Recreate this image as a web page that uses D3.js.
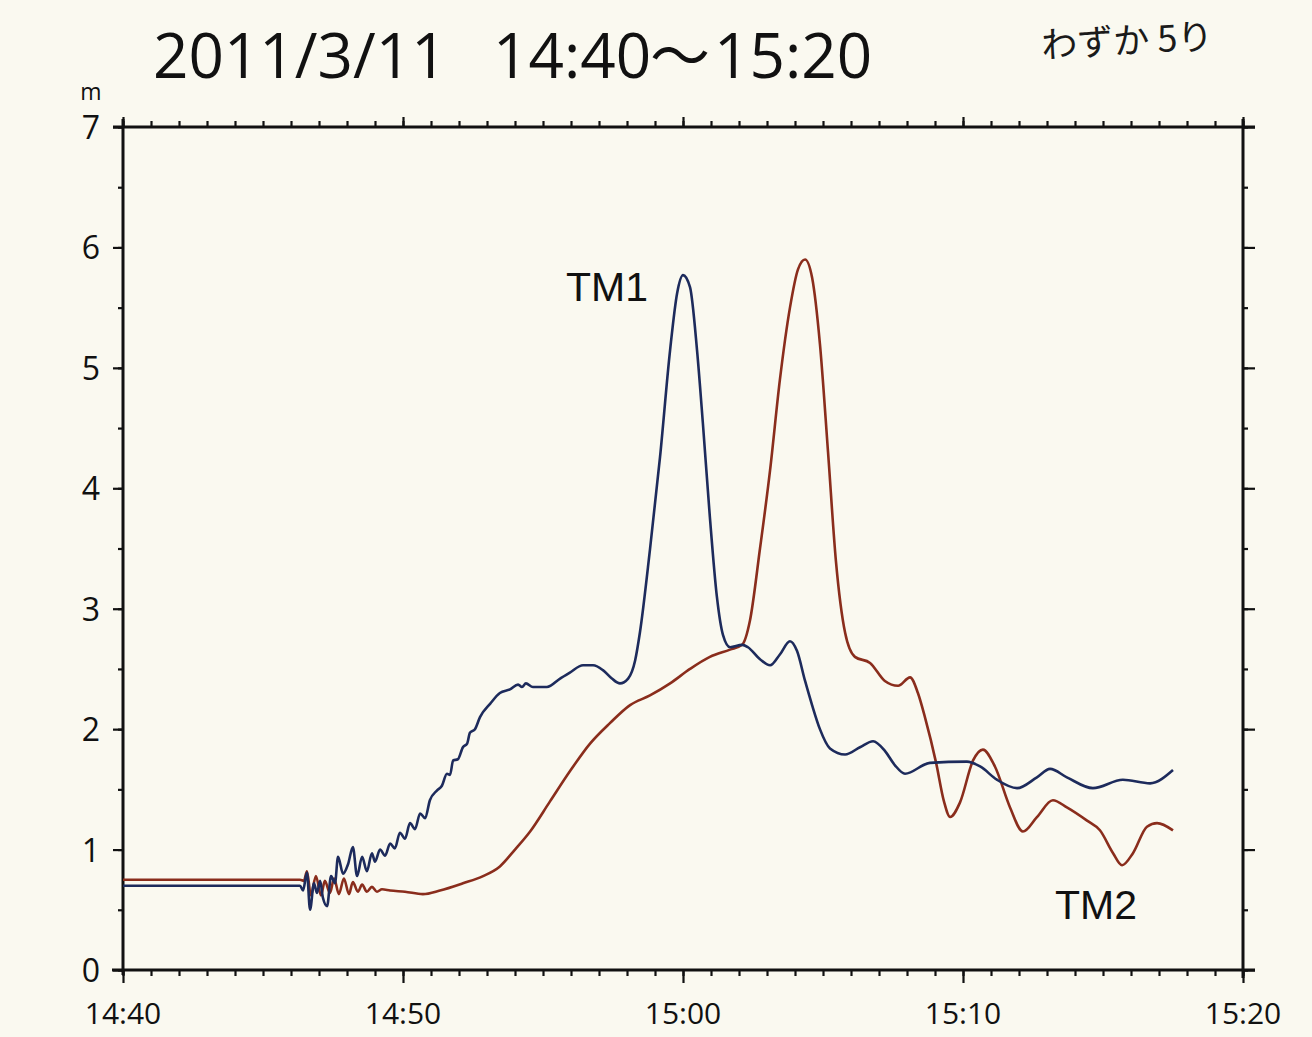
<!DOCTYPE html>
<html>
<head>
<meta charset="utf-8">
<script src="https://cdn.jsdelivr.net/npm/d3@7"></script>
<style>
    body { margin: 0; background: #faf9f0; }
    svg { display: block; }
</style>
</head>
<body>
<div id="chart"></div>
<script>
// minutes after 14:40, water level in m
let tm1Minutes = [0, 6.32, 6.43, 6.57, 6.68, 6.82, 6.93, 7.04, 7.14, 7.29, 7.43, 7.57, 7.68, 7.86, 8.04, 8.21,
    8.36, 8.54, 8.71, 8.89, 9.00, 9.18, 9.36, 9.54, 9.71, 9.89, 10.07, 10.25, 10.43, 10.61, 10.79, 10.96,
    11.21, 11.39, 11.57, 11.68, 11.79, 11.96, 12.14, 12.29, 12.39, 12.57, 12.75, 13.11, 13.46, 13.82, 14.11,
    14.25, 14.39, 14.64, 15.14, 15.61, 15.96, 16.43, 16.79, 17.14, 17.46, 17.75, 18.04, 18.29, 18.46, 18.82,
    19.18, 19.54, 19.79, 20.00, 20.25, 20.50, 20.71, 20.96, 21.21, 21.43, 21.68, 22.11, 22.32, 22.75, 23.11,
    23.46, 23.82, 24.07, 24.36, 24.61, 24.89, 25.25, 25.79, 26.32, 26.79, 27.21, 27.57, 27.93, 28.82, 30.14,
    30.61, 31.21, 31.93, 32.64, 33.11, 33.71, 34.64, 35.71, 36.68, 37.50]
let tm1Level = [0.70, 0.70, 0.66, 0.81, 0.50, 0.72, 0.64, 0.74, 0.60, 0.53, 0.78, 0.72, 0.94, 0.80, 0.88, 1.02,
    0.78, 0.94, 0.82, 0.97, 0.90, 1.00, 0.95, 1.05, 1.01, 1.14, 1.09, 1.22, 1.17, 1.30, 1.26, 1.41,
    1.49, 1.53, 1.63, 1.62, 1.74, 1.75, 1.85, 1.88, 1.97, 2.00, 2.10, 2.21, 2.30, 2.33, 2.37,
    2.35, 2.38, 2.35, 2.35, 2.42, 2.47, 2.53, 2.53, 2.49, 2.42, 2.38, 2.42, 2.57, 2.80, 3.49,
    4.26, 5.15, 5.62, 5.77, 5.67, 5.15, 4.54, 3.76, 3.10, 2.78, 2.68, 2.70, 2.68, 2.58, 2.53,
    2.62, 2.73, 2.65, 2.40, 2.20, 2.00, 1.84, 1.79, 1.85, 1.90, 1.82, 1.70, 1.63, 1.72, 1.73,
    1.69, 1.58, 1.51, 1.60, 1.67, 1.60, 1.51, 1.58, 1.55, 1.66]

let tm2Minutes = [0, 6.32, 6.46, 6.57, 6.71, 6.89, 7.07, 7.21, 7.39, 7.54, 7.71, 7.89, 8.07, 8.21, 8.39, 8.54,
    8.71, 8.89, 9.07, 9.25, 9.54, 10.07, 10.71, 11.32, 12.14, 12.86, 13.46, 14.00, 14.54, 15.25, 15.96,
    16.68, 17.39, 18.11, 18.82, 19.54, 20.25, 20.96, 21.68, 22.11, 22.39, 22.75, 23.11, 23.46, 23.82, 24.11,
    24.36, 24.61, 24.89, 25.18, 25.46, 25.79, 26.14, 26.68, 27.21, 27.68, 28.11, 28.39, 28.64, 29.04, 29.32,
    29.54, 29.89, 30.36, 30.71, 31.14, 31.68, 32.14, 32.64, 33.21, 33.71, 34.43, 34.89, 35.36, 35.68, 36.07,
    36.57, 36.93, 37.50]
let tm2Level = [0.75, 0.75, 0.74, 0.82, 0.62, 0.78, 0.62, 0.74, 0.64, 0.76, 0.63, 0.76, 0.63, 0.73, 0.65, 0.71,
    0.65, 0.69, 0.65, 0.67, 0.66, 0.65, 0.63, 0.66, 0.72, 0.78, 0.86, 1.00, 1.15, 1.40, 1.65,
    1.88, 2.05, 2.20, 2.28, 2.38, 2.50, 2.60, 2.66, 2.70, 2.90, 3.50, 4.15, 4.90, 5.50, 5.82,
    5.90, 5.75, 5.20, 4.30, 3.40, 2.80, 2.60, 2.55, 2.40, 2.36, 2.43, 2.30, 2.10, 1.72, 1.40,
    1.27, 1.39, 1.74, 1.83, 1.69, 1.35, 1.15, 1.27, 1.41, 1.35, 1.24, 1.16, 0.97, 0.87, 0.97,
    1.19, 1.22, 1.16]

let xTickLabels = ['14:40', '14:50', '15:00', '15:10', '15:20']
let yTickValues = [0, 1, 2, 3, 4, 5, 6, 7]

const width = 1312, height = 1037
const plotLeft = 123, plotRight = 1243, plotTop = 127, plotBottom = 970

let svg = d3.select('#chart').append('svg')
    .attr('width', width)
    .attr('height', height)

svg.append('rect')
    .attr('width', width).attr('height', height)
    .style('fill', '#faf9f0')

let x = d3.scaleLinear().domain([0, 40]).range([plotLeft, plotRight])
let y = d3.scaleLinear().domain([0, 7]).range([plotBottom, plotTop])

// axes: bottom + top in minutes, left + right in metres
let axisStyle = g => {
    g.select('.domain').remove()
    g.selectAll('line').attr('stroke', '#111').attr('stroke-width', 2.2)
    g.selectAll('text').remove()
}

svg.append('g').attr('transform', `translate(0,${plotBottom})`)
    .call(d3.axisBottom(x).ticks(40).tickSize(6)).call(axisStyle)
svg.append('g').attr('transform', `translate(0,${plotBottom})`)
    .call(d3.axisBottom(x).tickValues([0, 10, 20, 30, 40]).tickSize(13)).call(axisStyle)
svg.append('g').attr('transform', `translate(0,${plotTop})`)
    .call(d3.axisTop(x).ticks(40).tickSize(6)).call(axisStyle)
svg.append('g').attr('transform', `translate(0,${plotTop})`)
    .call(d3.axisTop(x).tickValues([0, 10, 20, 30, 40]).tickSize(10)).call(axisStyle)

svg.append('g').attr('transform', `translate(${plotLeft},0)`)
    .call(d3.axisLeft(y).ticks(14).tickSize(5)).call(axisStyle)
svg.append('g').attr('transform', `translate(${plotLeft},0)`)
    .call(d3.axisLeft(y).tickValues(yTickValues).tickSize(10)).call(axisStyle)
svg.append('g').attr('transform', `translate(${plotRight},0)`)
    .call(d3.axisRight(y).ticks(14).tickSize(5)).call(axisStyle)
svg.append('g').attr('transform', `translate(${plotRight},0)`)
    .call(d3.axisRight(y).tickValues(yTickValues).tickSize(12)).call(axisStyle)

// frame lines, a bit past the corners like the printout
let frame = svg.append('g').attr('stroke', '#111').attr('stroke-width', 3).attr('fill', 'none')
frame.append('line').attr('x1', plotLeft - 11).attr('x2', plotRight + 12).attr('y1', plotBottom).attr('y2', plotBottom)
frame.append('line').attr('x1', plotLeft - 10).attr('x2', plotRight + 12).attr('y1', plotTop).attr('y2', plotTop)
frame.append('line').attr('x1', plotLeft).attr('x2', plotLeft).attr('y1', plotTop - 8).attr('y2', plotBottom + 5)
frame.append('line').attr('x1', plotRight).attr('x2', plotRight).attr('y1', plotTop - 8).attr('y2', plotBottom + 8)

let labelFont = '"Open Sans", "Noto Sans", sans-serif'

svg.append('g').selectAll('text')
    .data(xTickLabels)
    .join('text')
    .attr('x', (d, i) => x(i * 10))
    .attr('y', 1024)
    .attr('text-anchor', 'middle')
    .style('font-family', labelFont)
    .style('font-size', '30px')
    .style('fill', '#111')
    .text(d => d)

svg.append('g').selectAll('text')
    .data(yTickValues)
    .join('text')
    .attr('x', 100)
    .attr('y', d => y(d) + 12)
    .attr('text-anchor', 'end')
    .style('font-family', labelFont)
    .style('font-size', '32px')
    .style('fill', '#111')
    .text(d => d)

svg.append('text')
    .attr('x', 91).attr('y', 100)
    .attr('text-anchor', 'middle')
    .style('font-family', labelFont)
    .style('font-size', '23px')
    .style('fill', '#111')
    .text('m')

// title, pieces placed like the printout
let title = svg.append('text')
    .attr('y', 78)
    .style('font-family', labelFont)
    .style('font-size', '62px')
    .style('fill', '#111')
title.append('tspan').attr('x', 153).text('2011/3/11')
title.append('tspan').attr('x', 493).text('14:40')
title.append('tspan').attr('x', 650)
    .style('font-family', '"Noto Sans CJK JP", sans-serif')
    .style('font-size', '60px')
    .text('～')
title.append('tspan').attr('x', 714).text('15:20')

// handwritten note
svg.append('text')
    .attr('x', 1042).attr('y', 58)
    .attr('transform', 'rotate(-3, 1042, 58)')
    .style('font-family', '"Noto Sans CJK JP", sans-serif')
    .style('font-size', '36px')
    .style('fill', '#1a1a1a')
    .text('わずか 5り')

// gauge records
let line = d3.line()
    .x(d => x(d[0]))
    .y(d => y(d[1]))
    .curve(d3.curveMonotoneX)

let tm1 = tm1Minutes.map((t, i) => [t, tm1Level[i]])
let tm2 = tm2Minutes.map((t, i) => [t, tm2Level[i]])

svg.append('path')
    .datum(tm2)
    .attr('d', line)
    .attr('fill', 'none')
    .attr('stroke', '#8a2d1c')
    .attr('stroke-width', 2.6)

svg.append('path')
    .datum(tm1)
    .attr('d', line)
    .attr('fill', 'none')
    .attr('stroke', '#1d2b5c')
    .attr('stroke-width', 2.6)

let seriesFont = '"Liberation Sans", Arial, sans-serif'
svg.append('text')
    .attr('x', 566).attr('y', 301)
    .style('font-family', seriesFont)
    .style('font-size', '41px')
    .style('fill', '#111')
    .text('TM1')
svg.append('text')
    .attr('x', 1055).attr('y', 919)
    .style('font-family', seriesFont)
    .style('font-size', '41px')
    .style('fill', '#111')
    .text('TM2')
</script>
</body>
</html>
